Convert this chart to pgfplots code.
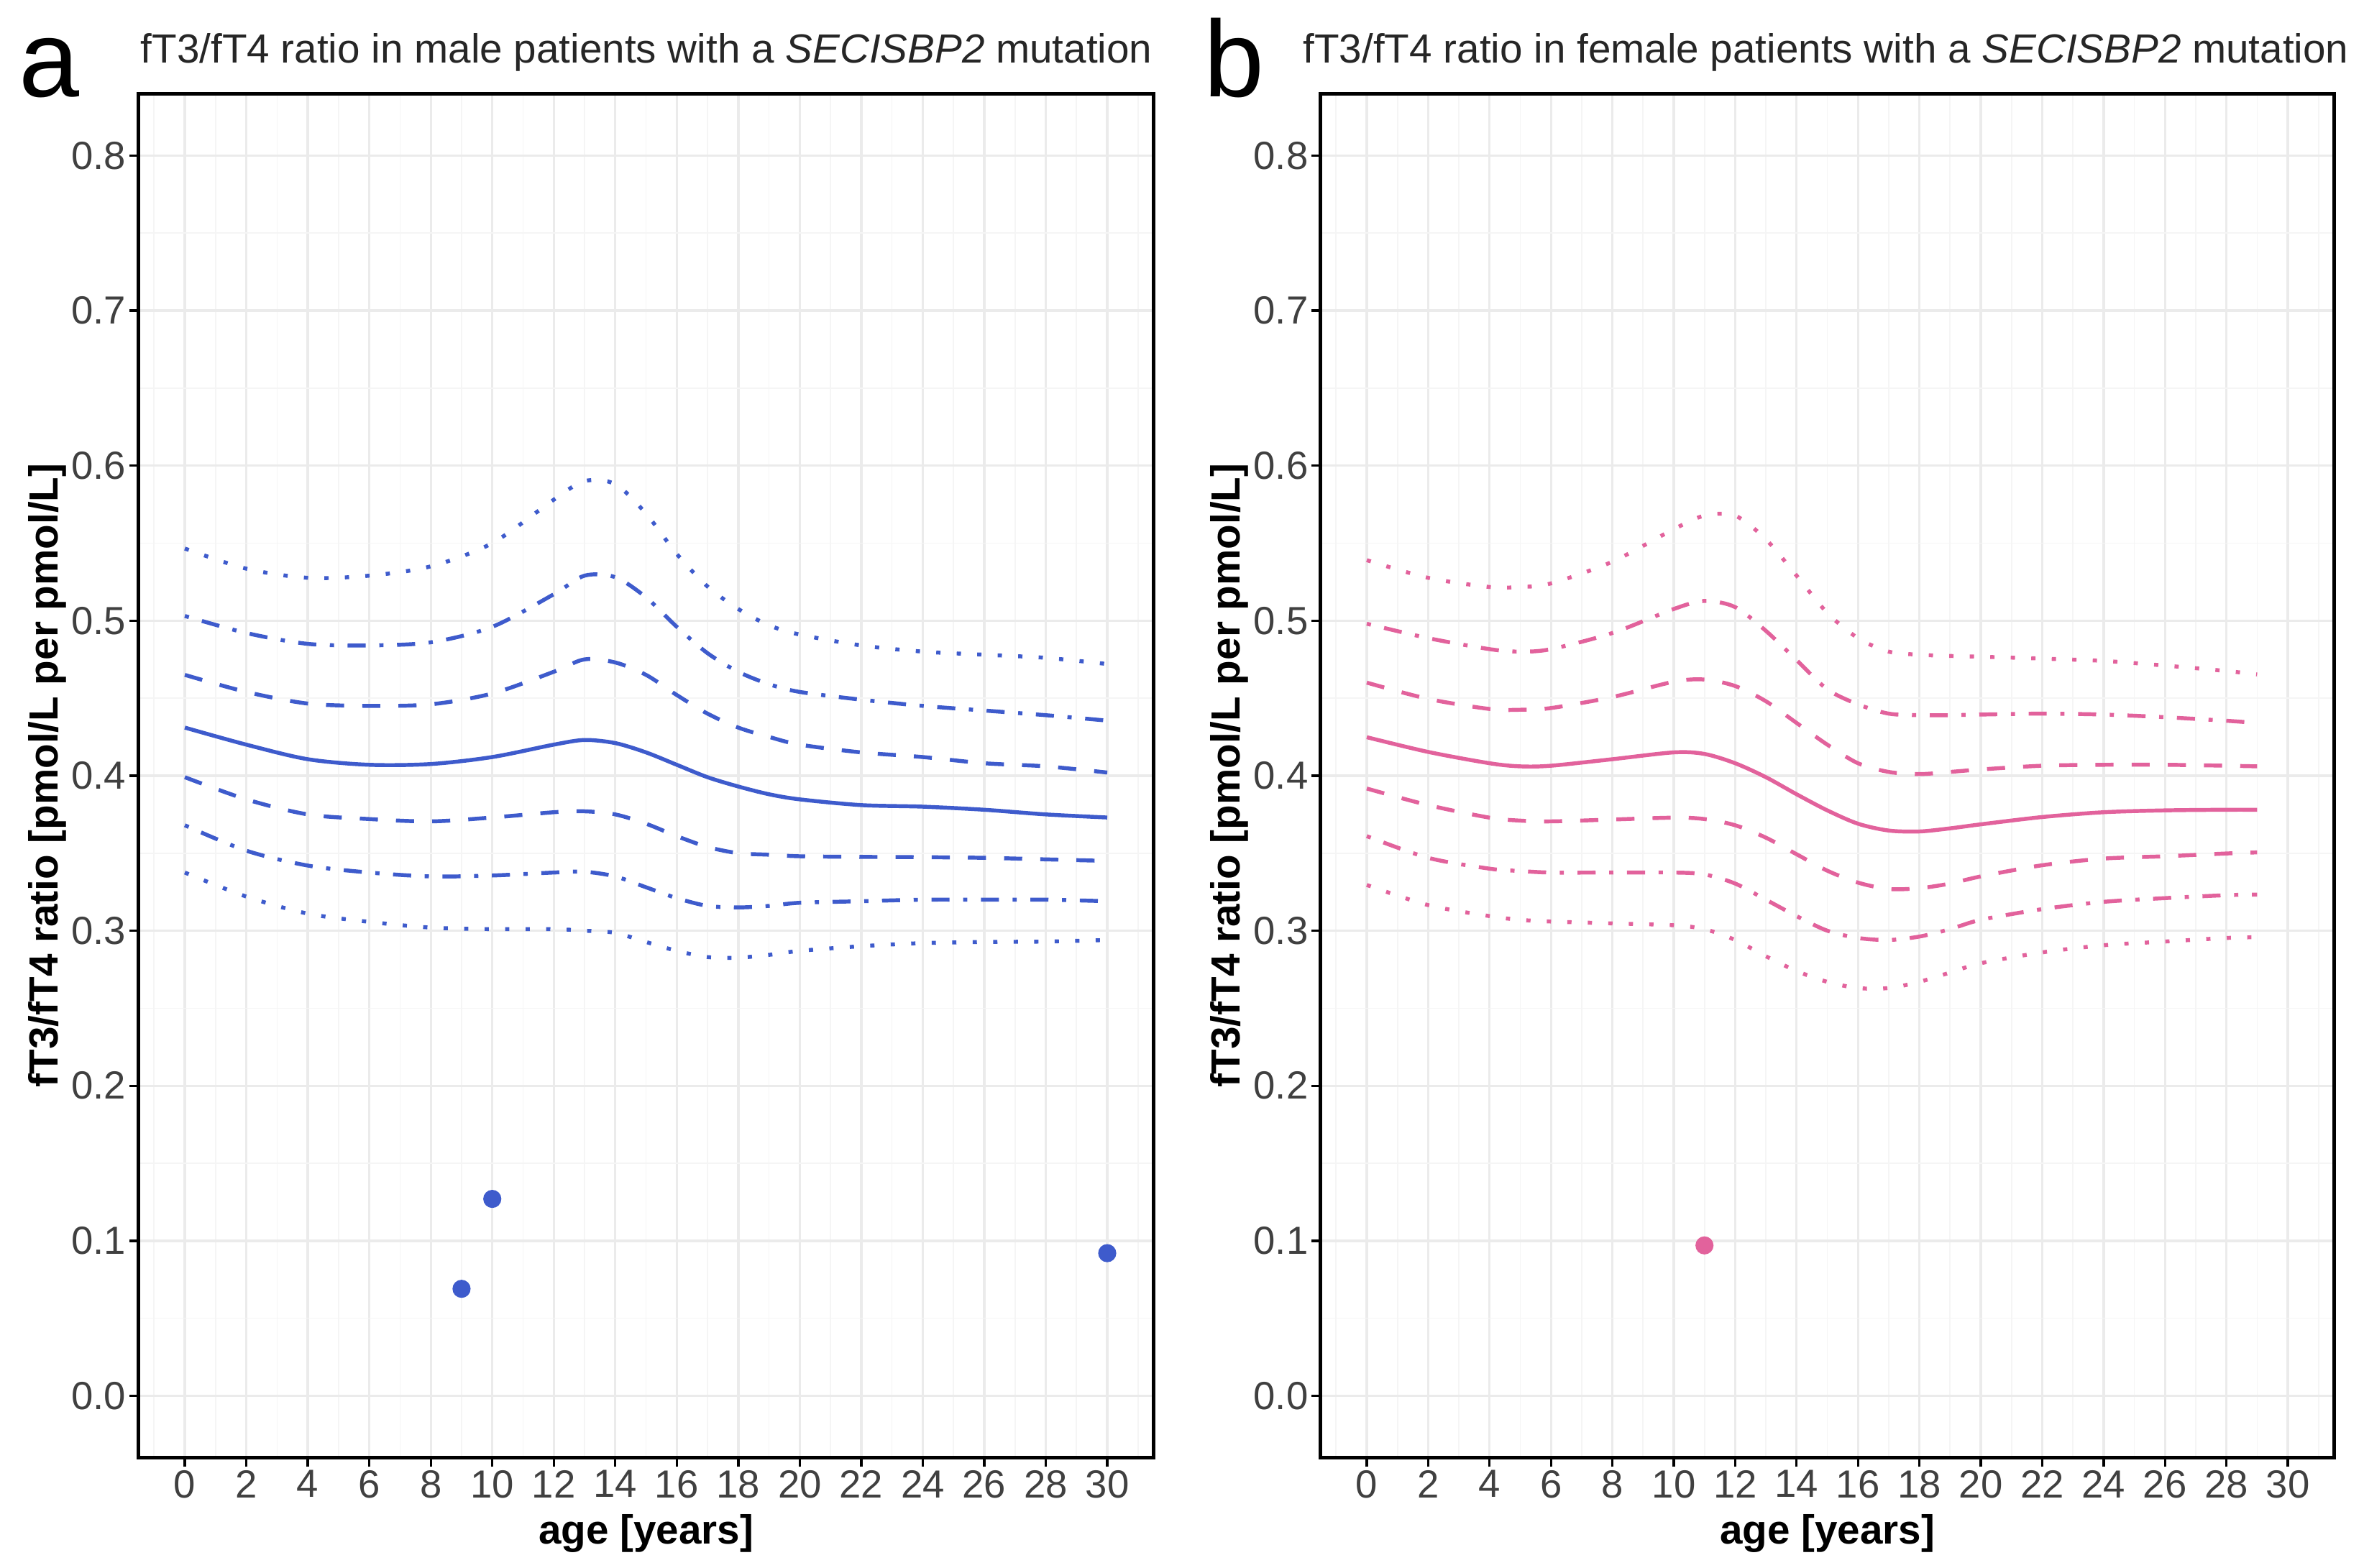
\documentclass[border=0pt]{standalone}
\usepackage{pgfplots}
\pgfplotsset{compat=1.18}
\usepackage{pgfplotstable}
\usepackage{fontspec}
\setmainfont{Liberation Sans}
\definecolor{maleblue}{RGB}{62,91,204}
\definecolor{femalepink}{RGB}{226,98,156}

\pgfplotstableread{
x   lodot   lodd    lodash  med     updash  updd    updot
0   0.3375  0.368   0.399   0.431   0.465   0.503   0.5465
2   0.322   0.3516  0.3847  0.420   0.454   0.492   0.5335
4   0.311   0.342   0.375   0.4106  0.4465  0.485   0.5276
6   0.3057  0.3375  0.372   0.407   0.445   0.484   0.529
8   0.302   0.335   0.3705  0.4075  0.446   0.486   0.535
10  0.301   0.3356  0.373   0.412   0.453   0.496   0.550
12  0.301   0.3375  0.3764  0.420   0.467   0.517   0.578
13  0.300   0.338   0.377   0.423   0.475   0.529   0.590
14  0.2986  0.335   0.375   0.421   0.473   0.528   0.588
15  0.2927  0.328   0.369   0.415   0.465   0.515   0.569
16  0.287   0.321   0.361   0.407   0.452   0.496   0.543
17  0.283   0.316   0.354   0.399   0.440   0.479   0.522
18  0.2826  0.315   0.350   0.393   0.431   0.467   0.5075
19  0.2844  0.316   0.349   0.388   0.425   0.459   0.497
20  0.287   0.318   0.348   0.3847  0.420   0.454   0.491
22  0.290   0.319   0.3476  0.381   0.415   0.449   0.484
24  0.292   0.320   0.3474  0.380   0.412   0.445   0.480
26  0.2927  0.320   0.347   0.378   0.408   0.442   0.478
28  0.293   0.320   0.346   0.375   0.406   0.439   0.476
30  0.294   0.319   0.345   0.373   0.402   0.4355  0.472
}\maletable

\pgfplotstableread{
x   lodot   lodd    lodash  med     updash  updd    updot
0   0.3295  0.361   0.3917  0.4248  0.460   0.498   0.539
2   0.3165  0.347   0.381   0.4153  0.4495  0.4887  0.5276
4   0.3094  0.340   0.3729  0.408   0.443   0.4816  0.5217
5   0.307   0.3385  0.371   0.406   0.4425  0.480   0.5217
6   0.3059  0.3375  0.3705  0.4064  0.4436  0.4816  0.524
8   0.3047  0.3375  0.3717  0.4106  0.4507  0.492   0.538
10  0.3035  0.3375  0.3729  0.415   0.4606  0.5075  0.559
11  0.301   0.3363  0.372   0.414   0.462   0.5127  0.5677
12  0.294   0.3304  0.368   0.408   0.4578  0.5087  0.5677
13  0.2835  0.320   0.360   0.399   0.448   0.4934  0.5524
14  0.274   0.3094  0.3493  0.388   0.434   0.4745  0.529
15  0.267   0.300   0.3387  0.3776  0.420   0.4557  0.505
16  0.263   0.2953  0.331   0.369   0.408   0.446   0.4887
17  0.263   0.294   0.3269  0.3646  0.4024  0.440   0.480
18  0.267   0.2962  0.3274  0.364   0.401   0.439   0.478
19  0.273   0.301   0.3304  0.366   0.4024  0.439   0.4772
20  0.279   0.307   0.335   0.3686  0.404   0.4394  0.4767
22  0.286   0.3139  0.3422  0.3733  0.4064  0.440   0.4755
24  0.2906  0.3186  0.3465  0.3764  0.407   0.4394  0.474
26  0.293   0.321   0.348   0.3776  0.407   0.4377  0.471
28  0.2953  0.3229  0.3498  0.378   0.4064  0.4354  0.4675
29  0.2958  0.3233  0.3505  0.378   0.406   0.434   0.4653
}\femaletable

\pgfplotsset{
  panel/.style={
    scale only axis,
    height=452.5pt,
    xmin=-1.5, xmax=31.5, ymin=-0.04, ymax=0.84,
    axis line style={black, line width=1.2pt},
    xtick={0,2,...,30},
    ytick={0,0.1,0.2,0.3,0.4,0.5,0.6,0.7,0.8},
    minor xtick={-1,1,3,...,31},
    minor ytick={0.05,0.15,0.25,0.35,0.45,0.55,0.65,0.75},
    grid=both,
    major grid style={color=black!8, line width=0.8pt},
    minor grid style={color=black!4, line width=0.4pt},
    tick align=outside,
    major tick length=3pt,
    minor tick length=0pt,
    tick style={black, line width=0.8pt},
    xtick pos=bottom, ytick pos=left,
    /pgf/number format/assume math mode=true,
    y tick label style={/pgf/number format/fixed, /pgf/number format/fixed zerofill, /pgf/number format/precision=1},
    ticklabel style={font=\fontsize{13}{15}\selectfont, text=black!75},
    yticklabel style={inner sep=0pt, xshift=-1pt, anchor=east},
    xticklabel style={inner sep=0pt, yshift=-1pt, anchor=north},
    xlabel={age [years]},
    ylabel={fT3/fT4 ratio [pmol/L per pmol/L]},
    label style={font=\fontsize{13.5}{16}\selectfont\bfseries},
    xlabel style={at={(axis description cs:0.5,-0.063)}, anchor=base},
    ylabel style={at={(axis description cs:-0.080,0.5)}, anchor=base},
    title style={font=\fontsize{13.5}{16}\selectfont, anchor=base west, inner sep=0pt, text=black!85},
  },
  med/.style={line width=1.3pt, smooth},
  dsh/.style={line width=1.3pt, smooth, dash pattern=on 6pt off 6pt},
  dd/.style={line width=1.3pt, smooth, dash pattern=on 1.4pt off 4.5pt on 6pt off 4.5pt},
  dt/.style={line width=1.3pt, smooth, dash pattern=on 1.4pt off 5.4pt},
}

\begin{document}
\begin{tikzpicture}
\path[use as bounding box] (0,0) rectangle (784pt,-520pt);

\begin{axis}[panel, width=336.5pt, at={(46pt,-31pt)}, anchor=north west,
  title={fT3/fT4 ratio in male patients with a \textit{SECISBP2} mutation},
  title style={at={(axis description cs:0,1)}, xshift=0.5pt, yshift=4.25pt}]
\addplot[maleblue, dt]  table[x=x, y=updot]  {\maletable};
\addplot[maleblue, dd]  table[x=x, y=updd]   {\maletable};
\addplot[maleblue, dsh] table[x=x, y=updash] {\maletable};
\addplot[maleblue, med] table[x=x, y=med]    {\maletable};
\addplot[maleblue, dsh] table[x=x, y=lodash] {\maletable};
\addplot[maleblue, dd]  table[x=x, y=lodd]   {\maletable};
\addplot[maleblue, dt]  table[x=x, y=lodot]  {\maletable};
\addplot[only marks, mark=*, mark size=2.8pt, maleblue] coordinates {(9,0.069) (10,0.127) (30,0.092)};
\end{axis}

\begin{axis}[panel, width=336pt, at={(438pt,-31pt)}, anchor=north west,
  title={fT3/fT4 ratio in female patients with a \textit{SECISBP2} mutation},
  title style={at={(axis description cs:0,1)}, xshift=-6pt, yshift=4.25pt}]
\addplot[femalepink, dt]  table[x=x, y=updot]  {\femaletable};
\addplot[femalepink, dd]  table[x=x, y=updd]   {\femaletable};
\addplot[femalepink, dsh] table[x=x, y=updash] {\femaletable};
\addplot[femalepink, med] table[x=x, y=med]    {\femaletable};
\addplot[femalepink, dsh] table[x=x, y=lodash] {\femaletable};
\addplot[femalepink, dd]  table[x=x, y=lodd]   {\femaletable};
\addplot[femalepink, dt]  table[x=x, y=lodot]  {\femaletable};
\addplot[only marks, mark=*, mark size=2.8pt, femalepink] coordinates {(11,0.097)};
\end{axis}

\node[anchor=base west, inner sep=0pt, font=\fontsize{36}{40}\selectfont] at (6.2pt,-32pt) {a};
\node[anchor=base west, inner sep=0pt, font=\fontsize{36}{40}\selectfont] at (399pt,-32pt) {b};
\end{tikzpicture}
\end{document}
